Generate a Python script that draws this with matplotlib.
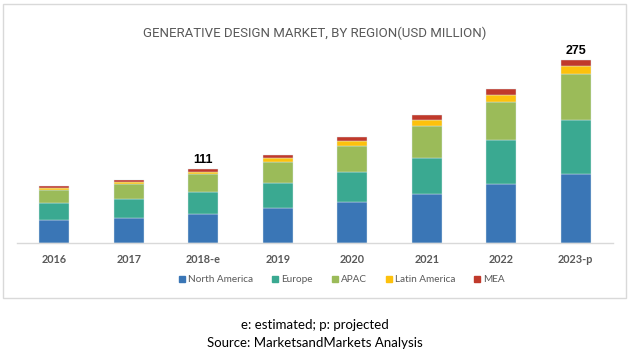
import matplotlib
matplotlib.use("Agg")
import matplotlib.pyplot as plt
from matplotlib.patches import Rectangle
from matplotlib.lines import Line2D
import numpy as np

years = ["2016", "2017", "2018-e", "2019", "2020", "2021", "2022", "2023-p"]
regions = ["North America", "Europe", "APAC", "Latin America", "MEA"]
north_america = [35, 38, 43, 52, 61, 73, 88, 104]
europe = [25, 28, 34, 38, 46, 55, 66, 80]
apac = [19, 22, 26, 31, 39, 48, 58, 70]
latin_america = [3, 3.5, 4, 7, 7.5, 8.5, 10, 12]
mea = [3, 3.5, 4, 4.5, 6, 7, 9, 9]
value_labels = {2: "111", 7: "275"}
colors = ["#3a76b6", "#3aa991", "#9bbb59", "#fdc10c", "#c0392b"]

W, H = 631, 356
fig = plt.figure(figsize=(W / 100, H / 100), dpi=100)
fig.patch.set_facecolor("white")

def fx(px):
    return px / W

def fy(py):
    return 1 - py / H

ax_left, ax_right, ax_top, ax_bottom = 17, 613, 40, 243
ax = fig.add_axes([fx(ax_left), fy(ax_bottom), fx(ax_right - ax_left), (ax_bottom - ax_top) / H])

series = [north_america, europe, apac, latin_america, mea]
x = np.arange(len(years))
bottom = np.zeros(len(years))
for vals, c, name in zip(series, colors, regions):
    v = np.array(vals, dtype=float)
    ax.bar(x, v, 0.4, bottom=bottom, color=c, edgecolor="#dce8ec", linewidth=0.3, label=name)
    bottom += v

for i, txt in value_labels.items():
    ax.annotate(txt, (x[i], bottom[i]), xytext=(0, 2), textcoords="offset points",
                ha="center", va="bottom", fontsize=9, fontweight="bold",
                family="Liberation Sans", color="black")

ax.set_xlim(-0.5, len(years) - 0.5)
ax.set_ylim(0, (ax_bottom - ax_top) * 1.5)
for s in ["top", "right", "left"]:
    ax.spines[s].set_visible(False)
ax.spines["bottom"].set_color("#d9d9d9")
ax.spines["bottom"].set_linewidth(1)
ax.set_yticks([])
ax.set_xticks(x)
ax.set_xticklabels(years, fontsize=7.8, fontweight="bold", family="Lato", color="#595959")
ax.tick_params(axis="x", length=0, pad=8)

fig.text(fx(314.5), fy(33), "GENERATIVE DESIGN MARKET, BY REGION(USD MILLION)",
         ha="center", va="center", fontsize=9.5, family="Roboto", color="#595959")

handles = [Line2D([0], [0], marker="s", linestyle="none", markersize=4.5,
                  markerfacecolor=c, markeredgecolor=c) for c in colors]
fig.legend(handles, regions, loc="center", bbox_to_anchor=(fx(342), fy(280)), ncol=5,
           frameon=False, handlelength=0.6, handletextpad=0.3, columnspacing=1.9,
           prop={"family": "Lato", "size": 7.2}, labelcolor="#595959")

fig.patches.append(Rectangle((fx(3), fy(298)), fx(623), (298 - 4) / H, transform=fig.transFigure,
                             fill=False, edgecolor="#d9d9d9", linewidth=1))

fig.text(fx(315), fy(325), "e: estimated; p: projected", ha="center", va="center",
         fontsize=9.5, family="Lato", color="black")
fig.text(fx(315), fy(343), "Source: MarketsandMarkets Analysis", ha="center", va="center",
         fontsize=9.5, family="Lato", color="black")

fig.savefig("out.png", dpi=100, facecolor="white")
